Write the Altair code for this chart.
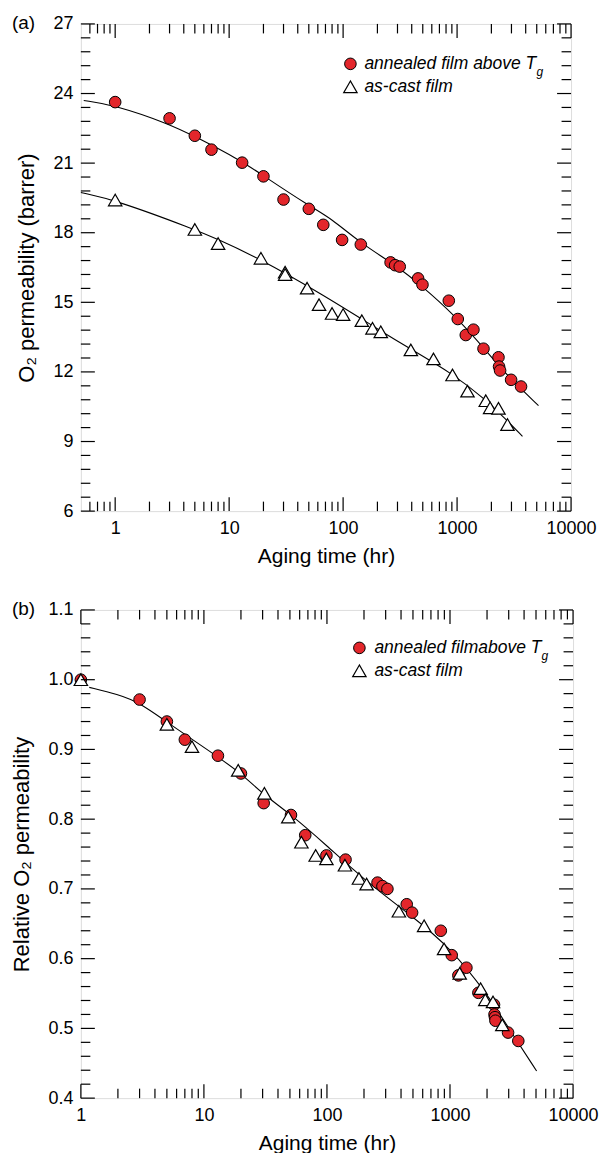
import altair as alt
import pandas as pd

FONT = "Liberation Sans"
RED = "#e3262b"

# ---------------- panel (a) data ----------------
ann_t = [1, 3, 5, 7, 13, 20, 30, 50, 67, 98, 143, 261, 286, 314, 455, 497,
         846, 1014, 1192, 1392, 1705, 2309, 2335, 2384, 2979, 3641]
ann_p = [23.63, 22.93, 22.18, 21.58, 21.02, 20.43, 19.43, 19.03, 18.34, 17.69,
         17.49, 16.72, 16.60, 16.54, 16.03, 15.76, 15.07, 14.28, 13.59, 13.82,
         13.00, 12.63, 12.23, 12.06, 11.66, 11.37]

cast_t = [1, 5, 8, 19, 31, 31, 48.3, 61.5, 80, 100, 146, 181, 214, 393, 621,
          912, 1234, 1786, 1950, 2307, 2768]
cast_p = [19.41, 18.14, 17.53, 16.90, 16.30, 16.20, 15.61, 14.90, 14.52, 14.47,
          14.21, 13.88, 13.73, 12.95, 12.56, 11.87, 11.17, 10.76, 10.45, 10.43, 9.73]

ann_fit_t = [0.53, 1, 2.94, 4.93, 12.9, 19.6, 52, 78, 144, 286, 491, 962, 1700, 2830, 5180]
ann_fit_p = [23.70, 23.50, 22.70, 22.17, 21.09, 20.48, 19.11, 18.63, 17.53,
             16.62, 15.71, 14.42, 13.06, 11.77, 10.55]

cast_fit_t = [0.5, 1, 4.93, 7.9, 17.7, 65, 211, 402, 899, 1747, 2654, 3749]
cast_fit_p = [19.73, 19.41, 18.15, 17.72, 16.93, 15.36, 13.78, 12.95, 11.94,
              10.84, 9.98, 9.22]

# ---------------- panel (b) data ----------------
ann_t_b = [1, 3, 5, 7, 13, 20, 30.6, 51, 66.6, 99, 141.6, 257.6, 282.5, 310,
           445, 492, 842, 1033, 1170, 1359, 1701, 2279, 2300, 2320, 2340, 2964, 3590]
ann_r = [1.0, 0.9715, 0.940, 0.914, 0.891, 0.8655, 0.823, 0.806, 0.777, 0.748,
         0.742, 0.709, 0.704, 0.700, 0.678, 0.666, 0.640, 0.605, 0.576, 0.587,
         0.551, 0.534, 0.520, 0.516, 0.511, 0.494, 0.482]

cast_t_b = [1, 5, 8, 19, 31, 48.5, 62, 81, 99, 140, 182, 210, 384, 616, 895,
            1199, 1774, 1937, 2237, 2662]
cast_r = [1.0, 0.936, 0.904, 0.870, 0.837, 0.803, 0.767, 0.748, 0.743, 0.734,
          0.715, 0.707, 0.668, 0.647, 0.614, 0.579, 0.557, 0.541, 0.538, 0.505]

fit_t_b = [1.17, 2, 3, 5, 10, 20, 30, 50, 100, 200, 500, 1000, 2000, 3000, 5058]
fit_r_b = [0.989, 0.979, 0.967, 0.939, 0.903, 0.8665, 0.836, 0.808, 0.762,
           0.713, 0.660, 0.616, 0.550, 0.500, 0.439]

# ---------------- ticks / labels ----------------
xa_major = [1, 10, 100, 1000, 10000]
xa_minor = [0.6, 0.7, 0.8, 0.9] + [m * d for d in (1, 10, 100, 1000) for m in range(2, 10)]
xb_minor = [m * d for d in (1, 10, 100, 1000) for m in range(2, 10)]
ya_major = [6, 9, 12, 15, 18, 21, 24, 27]
ya_minor = [round(6 + 0.6 * i, 1) for i in range(36) if i % 5 != 0]
yb_major = [0.4, 0.5, 0.6, 0.7, 0.8, 0.9, 1.0, 1.1]
yb_minor = [round(0.4 + 0.02 * i, 2) for i in range(36) if i % 5 != 0]

legend_a = ["annealed film above T", "as-cast film"]
legend_b = ["annealed filmabove T", "as-cast film"]
sub_g = "g"

x_title = "Aging time (hr)"
ya_title = "O\u2082 permeability (barrer)"
yb_title = "Relative O\u2082 permeability"

MAJ, MIN = 14, 9.5


def make_panel(W, H, xdom, ydom, xmaj, xmin, ymaj, ymin, yfmt, ytitle,
               circ_t, circ_v, tri_t, tri_v, fits, legend, leg_pos, gdx, tag):
    xs = alt.Scale(type="log", domain=xdom, nice=False)
    ys = alt.Scale(domain=ydom, nice=False, zero=False)
    xax = alt.Axis(values=xmaj, format="d", ticks=False, domain=False, grid=False,
                   labelFlush=False, labelOverlap=False, labelPadding=8,
                   labelFontSize=18, labelFont=FONT, labelColor="black",
                   titleFontSize=21, titleFont=FONT, titleColor="black",
                   titleFontWeight="normal", titlePadding=8)
    yax = alt.Axis(values=ymaj, format=yfmt, ticks=False, domain=False, grid=False,
                   labelFlush=False, labelOverlap=False, labelPadding=8,
                   labelFontSize=18, labelFont=FONT, labelColor="black",
                   titleFontSize=22, titleFont=FONT, titleColor="black",
                   titleFontWeight="normal", titlePadding=14)
    X = lambda: alt.X("x:Q", scale=xs, axis=xax, title=x_title)
    Y = lambda: alt.Y("y:Q", scale=ys, axis=yax, title=ytitle)

    layers = []
    for ft, fv in fits:
        layers.append(alt.Chart(pd.DataFrame({"x": ft, "y": fv})).mark_line(
            color="black", strokeWidth=1.1, interpolate="basis").encode(x=X(), y=Y()))
    layers.append(alt.Chart(pd.DataFrame({"x": circ_t, "y": circ_v})).mark_point(
        shape="circle", filled=True, color=RED, stroke="black", strokeWidth=1,
        size=135, opacity=1).encode(x=X(), y=Y()))
    layers.append(alt.Chart(pd.DataFrame({"x": tri_t, "y": tri_v})).mark_point(
        shape="triangle-up", filled=True, color="white", stroke="black",
        strokeWidth=1.2, size=180, opacity=1).encode(x=X(), y=Y()))

    # inward ticks on all four sides
    def xt(vals, y0, y1):
        return alt.Chart(pd.DataFrame({"x": vals})).mark_rule(
            color="black", strokeWidth=1.2).encode(x=X(), y=alt.value(y0), y2=alt.value(y1))

    def yt(vals, x0, x1):
        return alt.Chart(pd.DataFrame({"y": vals})).mark_rule(
            color="black", strokeWidth=1.2).encode(y=Y(), x=alt.value(x0), x2=alt.value(x1))

    layers += [xt(xmaj, H, H - MAJ), xt(xmin, H, H - MIN),
               xt(xmaj, 0, MAJ), xt(xmin, 0, MIN),
               yt(ymaj, 0, MAJ), yt(ymin, 0, MIN),
               yt(ymaj, W, W - MAJ), yt(ymin, W, W - MIN)]

    # legend
    sx, sy1, sy2, tx = leg_pos
    layers.append(alt.Chart(pd.DataFrame({"k": [0]})).mark_point(
        shape="circle", filled=True, color=RED, stroke="black", strokeWidth=1,
        size=135, opacity=1).encode(x=alt.value(sx), y=alt.value(sy1)))
    layers.append(alt.Chart(pd.DataFrame({"k": [0]})).mark_point(
        shape="triangle-up", filled=True, color="white", stroke="black",
        strokeWidth=1.2, size=180, opacity=1).encode(x=alt.value(sx), y=alt.value(sy2)))
    layers.append(alt.Chart(pd.DataFrame({"label": [legend[0]]})).mark_text(
        align="left", baseline="middle", font=FONT, fontSize=17.5, fontStyle="italic",
        color="black").encode(x=alt.value(tx), y=alt.value(sy1), text="label:N"))
    layers.append(alt.Chart(pd.DataFrame({"label": [legend[1]]})).mark_text(
        align="left", baseline="middle", font=FONT, fontSize=17.5, fontStyle="italic",
        color="black").encode(x=alt.value(tx), y=alt.value(sy2), text="label:N"))
    layers.append(alt.Chart(pd.DataFrame({"label": [sub_g]})).mark_text(
        align="left", baseline="middle", font=FONT, fontSize=12, fontStyle="italic",
        color="black", dx=gdx, dy=8).encode(x=alt.value(tx), y=alt.value(sy1), text="label:N"))
    # panel tag
    layers.append(alt.Chart(pd.DataFrame({"label": [tag]})).mark_text(
        align="left", baseline="middle", font=FONT, fontSize=19, color="black").encode(
        x=alt.value(-69), y=alt.value(-1), text="label:N"))

    return alt.layer(*layers).properties(width=W, height=H)


top = make_panel(491, 488, [0.5, 10000], [6, 27], xa_major, xa_minor, ya_major,
                 ya_minor, "d", ya_title, ann_t, ann_p, cast_t, cast_p,
                 [(ann_fit_t, ann_fit_p), (cast_fit_t, cast_fit_p)],
                 legend_a, (270, 40, 63, 284), 172.5, "(a)")
bot = make_panel(493, 489, [1, 10000], [0.4, 1.1], xa_major, xb_minor, yb_major,
                 yb_minor, ".1f", yb_title, ann_t_b, ann_r, cast_t_b, cast_r,
                 [(fit_t_b, fit_r_b)], legend_b, (279, 38, 61, 294), 167.5, "(b)")

chart = alt.vconcat(top, bot, spacing=32).properties(
    padding={"left": 10, "top": 12, "right": 0, "bottom": 0}
).configure_view(stroke="black", strokeWidth=1.5).configure(background="white")

chart.save("out.html", embed_options={"renderer": "svg", "actions": False})
